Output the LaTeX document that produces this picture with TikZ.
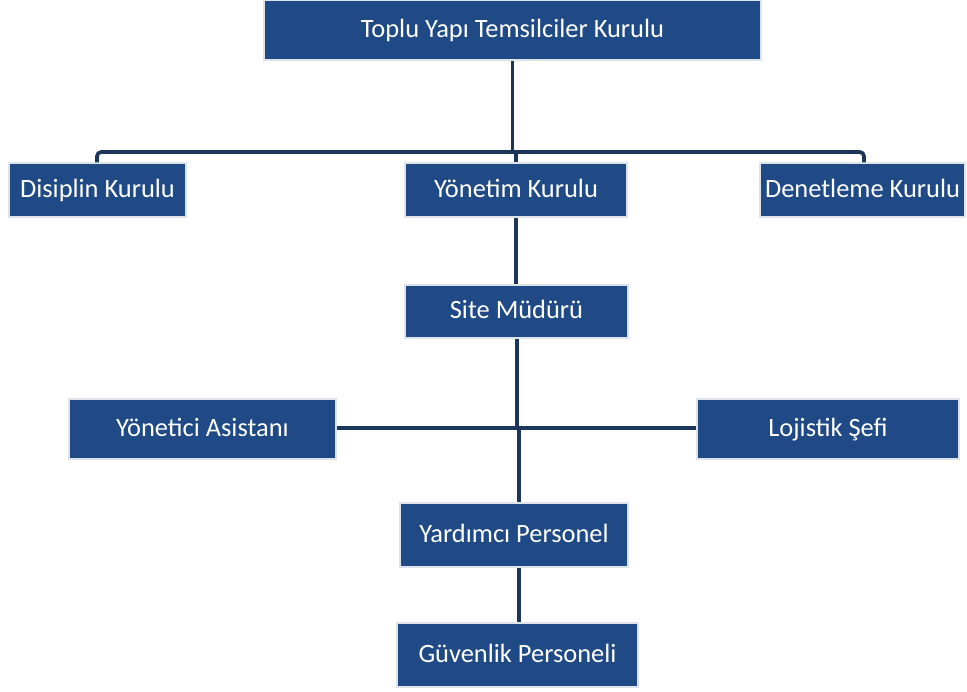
\documentclass[tikz,border=0pt]{standalone}
\usepackage{fontspec}
\setmainfont{Carlito}
\usepackage{xcolor}
\usepackage{tikz}
\usetikzlibrary{positioning,calc}
\definecolor{orgfill}{HTML}{1F4A85}
\definecolor{orgline}{HTML}{1B3658}
\definecolor{orgedge}{HTML}{DCE3EA}
\tikzset{
  obox/.style={draw=orgedge,line width=1pt,fill=orgfill,text=white,align=center,inner sep=2pt,
    text height=14pt,text depth=4pt},
  oline/.style={line width=2.6pt,draw=orgline}
}
\begin{document}
\begin{tikzpicture}[x=0.025cm,y=-0.025cm,font=\fontsize{18.8}{22}\selectfont]
  \useasboundingbox (0,0) rectangle (967,691);
  % top level
  \node[obox,minimum width=12.43cm,minimum height=1.5cm] (tytk) at (512.5,30) {Toplu Yapı Temsilciler Kurulu};
  % boards
  \node[obox,minimum width=4.43cm,minimum height=1.35cm] (disiplin) at (97.5,190) {Disiplin Kurulu};
  \node[obox,minimum width=5.55cm,minimum height=1.35cm] (yonetim) at (516,190) {Yönetim Kurulu};
  \node[obox,minimum width=5.13cm,minimum height=1.35cm] (denetleme) at (862.5,190) {Denetleme Kurulu};
  \coordinate (busL) at (97,152);
  \coordinate (busR) at (864,152);
  \coordinate (busM) at (tytk.south |- busL);
  \draw[oline] (tytk.south) -- (busM);
  \draw[oline,rounded corners=3pt] (disiplin.north -| busL) -- (busL) -- (busR) -- (denetleme.north -| busR);
  \draw[oline] (busM -| yonetim.north) -- (yonetim.north);
  % site management
  \node[obox,minimum width=5.58cm,minimum height=1.33cm] (site) at (516.5,311.5) {Site Müdürü};
  \draw[oline] (yonetim.south) -- (site.north -| yonetim.south);
  \node[obox,minimum width=6.68cm,minimum height=1.5cm] (asistan) at (202.5,429) {Yönetici Asistanı};
  \node[obox,minimum width=6.55cm,minimum height=1.5cm] (lojistik) at (828,429) {Lojistik Şefi};
  \coordinate (hub) at (517,428);
  \draw[oline] (asistan.east |- hub) -- (lojistik.west |- hub);
  \draw[oline] (site.south -| hub) -- (hub);
  % staff
  \node[obox,minimum width=5.7cm,minimum height=1.6cm] (yardimci) at (514,535) {Yardımcı Personel};
  \node[obox,minimum width=6.03cm,minimum height=1.6cm] (guvenlik) at (517.5,655) {Güvenlik Personeli};
  \coordinate (hubdown) at (519,428);
  \draw[oline] (hubdown) -- (hubdown |- yardimci.north);
  \draw[oline] (yardimci.south -| hubdown) -- (hubdown |- guvenlik.north);
\end{tikzpicture}
\end{document}
